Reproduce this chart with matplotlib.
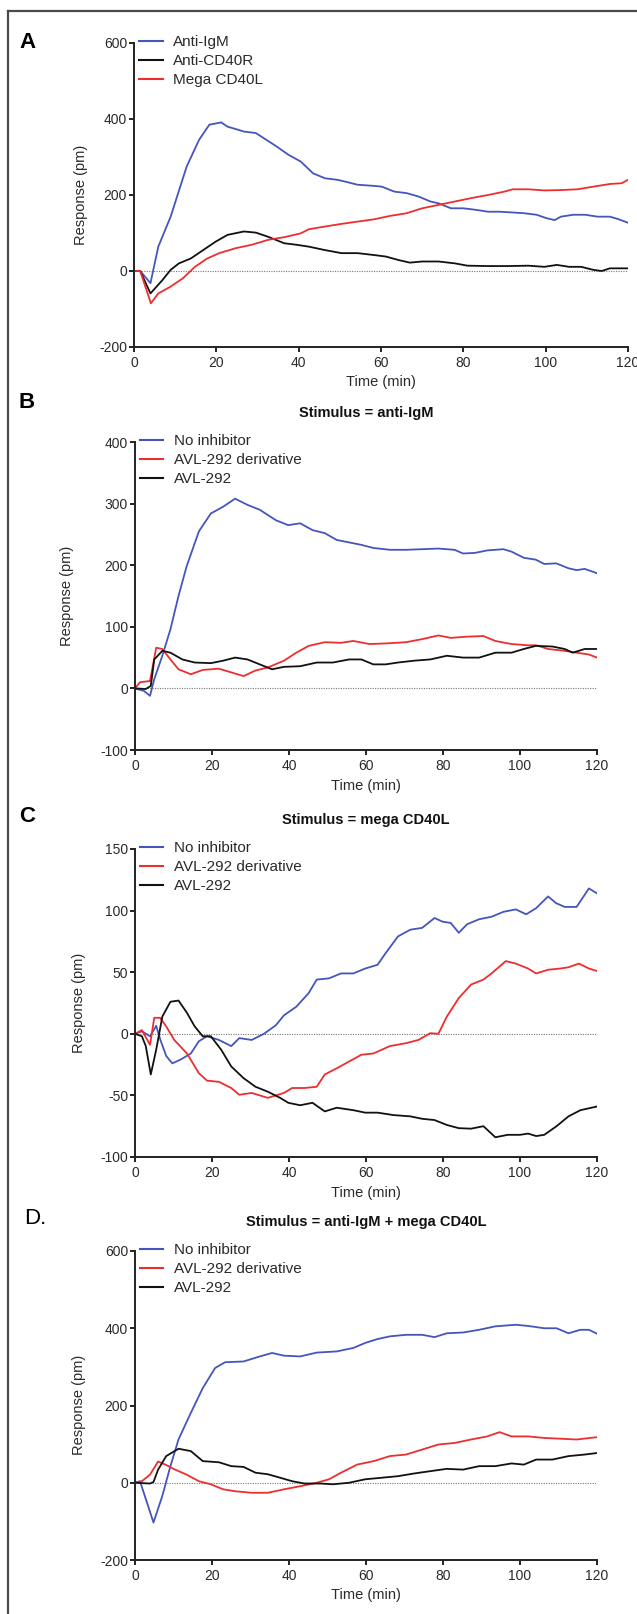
import numpy as np
import matplotlib.pyplot as plt
from matplotlib.lines import Line2D

plt.rcParams['font.family'] = ['Liberation Sans', 'DejaVu Sans']
plt.rcParams['axes.unicode_minus'] = False

BLUE = '#4555BC'
RED = '#EE2E2E'
BLACK = '#111111'

# ---- panel A: stimuli ----
a_igm_t = [0, 1.5, 4, 5.9, 8.9, 12.8, 15.8, 18.3, 21.2, 22.7, 26.7, 29.6, 34.6, 37.5, 40.5, 43.5, 46.4,
           49.4, 51.4, 54.3, 58.3, 60.2, 63.2, 66.2, 69.1, 72, 74, 77, 80, 83, 86, 88.9, 91.9, 94.8,
           97.8, 100.2, 102.2, 103.7, 106.7, 109.6, 112.6, 115.6, 117.5, 120]
a_igm_y = [0, 0, -32, 64, 143, 275, 345, 385, 391, 380, 367, 363, 328, 306, 288, 257, 244,
           240, 235, 227, 224, 222, 209, 205, 196, 183, 178, 165, 165, 161, 156, 156, 154, 152,
           148, 139, 134, 143, 148, 148, 143, 143, 137, 127]

a_cd40r_t = [0, 1.5, 4, 6.9, 8.9, 10.9, 13.8, 16.8, 19.8, 22.7, 26.7, 29.6, 32.6, 36.5, 39.5, 42.5,
             46.4, 50.4, 54.3, 58.3, 61.2, 64.2, 67, 70, 74, 78, 81, 86, 90.8, 95.8, 99.7, 102.7,
             105.7, 108.6, 111.6, 113.6, 115.6, 120]
a_cd40r_y = [0, 0, -59, -24, 3, 20, 33, 55, 77, 95, 104, 101, 90, 73, 69, 64,
             55, 47, 47, 42, 38, 29, 22, 25, 25, 20, 14, 13, 13, 14, 11, 16,
             11, 11, 3, 0, 7, 7]

a_mega_t = [0, 1.5, 4.1, 5.9, 8.9, 11.9, 14.8, 17.8, 20.7, 24.7, 28.6, 32.6, 36.5, 40.5, 42.5, 46.4,
            50.4, 54.3, 58.3, 62.2, 66.2, 70, 74, 78, 82, 86, 90, 92, 95.8, 99.7, 103.7, 107.7,
            111.6, 115.6, 118.5, 120]
a_mega_y = [0, 0, -85, -59, -41, -19, 11, 33, 47, 60, 69, 82, 89, 99, 110, 117,
            124, 130, 136, 145, 152, 165, 174, 183, 192, 200, 209, 215, 215, 212, 213, 215,
            222, 229, 231, 240]

# ---- panel B: anti-IgM ----
b_none_t = [0, 2.3, 3.9, 5, 7.1, 9.2, 11.3, 13.4, 16.6, 19.7, 22.9, 26, 29.2, 32.4, 36.6, 39.8,
            42.9, 46.1, 49.3, 52.4, 55.6, 58.8, 61.9, 66.2, 70.4, 74.6, 78.8, 83, 85.2, 88.3,
            91.5, 95.7, 97.8, 101, 104.1, 106.3, 109.4, 112.6, 114.7, 116.8, 120]
b_none_y = [0, -4, -12, 15, 53, 96, 150, 198, 255, 284, 295, 308, 298, 290, 273, 265,
            268, 257, 252, 241, 237, 233, 228, 225, 225, 226, 227, 225, 219, 220,
            224, 226, 222, 212, 209, 202, 203, 195, 192, 194, 187]

b_deriv_t = [0, 1.3, 3.9, 5.5, 7.1, 9.2, 11.3, 14.5, 17.6, 21.8, 25, 28.2, 31.3, 34.5, 38.7, 41.9,
             45.1, 49.3, 53.5, 56.7, 60.9, 65.1, 70.4, 74.6, 78.8, 82, 86.3, 90.5, 93.6, 97.8,
             102, 104.2, 107.3, 111.6, 114.7, 117.9, 120]
b_deriv_y = [0, 10, 12, 66, 64, 47, 31, 23, 30, 32, 26, 20, 29, 34, 45, 58,
             69, 75, 74, 77, 72, 73, 75, 80, 86, 82, 84, 85, 77, 72,
             70, 70, 64, 61, 58, 55, 50]

b_avl_t = [0, 2.8, 4.1, 5, 7.1, 9.2, 12.3, 15.5, 19.7, 22.9, 26, 29.2, 32.4, 35.6, 38.7, 42.9,
           47.2, 51.4, 55.6, 58.8, 61.9, 65.1, 68.3, 72.5, 76.7, 81, 85.2, 89.4, 93.6, 97.8,
           101, 104.1, 108.4, 111.6, 113.7, 116.8, 120]
b_avl_y = [0, -1, 4, 47, 61, 58, 47, 42, 41, 45, 50, 47, 39, 31, 35, 36,
           42, 42, 47, 47, 39, 39, 42, 45, 47, 53, 50, 50, 58, 58,
           64, 69, 68, 64, 58, 64, 64]

# ---- panel C: mega CD40L ----
c_none_t = [0, 1.8, 3.9, 5.5, 6.6, 8.1, 9.7, 11.8, 14.5, 16.6, 18.7, 21.8, 25, 27.1, 30.3, 33.5,
            36.6, 38.7, 41.9, 45.1, 47.2, 50.4, 53.5, 56.7, 59.8, 63, 65.1, 68.3, 71.5, 74.6,
            77.8, 79.9, 82, 84.1, 86.3, 89.4, 92.6, 95.7, 98.9, 101.6, 104.2, 107.3, 109.4,
            111.6, 114.7, 117.9, 120]
c_none_y = [0, 2, -2, 6.5, -5, -18, -24, -21, -16, -6, -2, -5, -10, -3.5, -5, 0,
            7, 15, 22, 33, 44, 45, 49, 49, 53, 56, 65.5, 79, 84.5, 86,
            94, 91, 90, 82, 89, 93, 95, 99, 101, 97, 102, 111.5, 106,
            103, 103, 118, 114]

c_deriv_t = [0, 1.8, 3.9, 5, 6.5, 8.1, 10.2, 13.5, 16.6, 18.7, 21.8, 25, 27.1, 30.3, 34.5, 38.7,
             40.8, 44, 47.2, 49.3, 52.4, 55.6, 58.8, 61.9, 66.2, 70.4, 73.6, 76.7, 78.8, 81,
             84.1, 87.3, 90.5, 92.6, 96.3, 98.9, 102.1, 104.2, 107.3, 110.5, 112.6, 115.3,
             117.9, 120]
c_deriv_y = [0, 3, -9, 13, 13, 6, -5, -16, -32, -38, -39, -44, -49.5, -48, -52, -48,
             -44, -44, -43, -33, -28, -22.5, -17, -16, -10, -7.6, -5, 0.5, 0, 14,
             29, 40, 44, 49, 59, 57, 53, 49, 52, 53, 54, 57,
             53, 51]

c_avl_t = [0, 1.8, 2.8, 4.1, 5.5, 7.1, 9.2, 11.3, 13.5, 15.5, 17.6, 19.7, 22.4, 25, 28.2, 31.3,
           34.5, 37.7, 39.8, 42.9, 46.1, 49.3, 52.4, 56.7, 59.8, 63, 67.2, 71.5, 74.6, 77.8,
           81, 84.1, 87.3, 90.5, 93.6, 96.8, 100, 102.1, 104.2, 106.3, 109.5, 112.6, 115.7, 120]
c_avl_y = [0, -2, -10, -33, -13, 14, 26, 27, 17, 6, -2, -2, -13, -26.5, -36, -43,
           -47, -52, -56, -58, -56, -63, -60, -62, -64, -64, -66, -67, -69, -70,
           -74, -76.6, -77, -75, -84, -82, -82, -81, -83, -82, -75, -67, -62, -59]

# ---- panel D: anti-IgM + mega CD40L ----
d_none_t = [0, 1.3, 4.8, 7.1, 9.2, 11.3, 14.5, 17.6, 20.8, 23.4, 28.2, 32.4, 35.6, 38.7, 42.9,
            47.2, 52.4, 56.7, 59.8, 63, 66.2, 70.4, 74.6, 77.8, 81, 85.2, 89.4, 93.6, 98.9,
            102.1, 106.3, 109.5, 112.6, 115.7, 117.9, 120]
d_none_y = [0, 4, -103, -34, 43, 112, 181, 245, 297, 312, 314, 327, 336, 329, 327,
            337, 340, 349, 362, 372, 379, 383, 383, 377, 387, 389, 396, 405, 409,
            406, 400, 400, 387, 396, 396, 386]

d_deriv_t = [0, 1.8, 3.9, 6, 8.1, 10.2, 13.4, 16.6, 19.7, 22.9, 26, 30.3, 34.5, 38.7, 42.9, 47.2,
             50.4, 53.5, 57.7, 62, 66.2, 70.4, 74.6, 78.8, 83, 87.3, 91.5, 94.7, 97.8, 102.1,
             106.3, 110.5, 114.7, 120]
d_deriv_y = [0, 4, 21, 55, 46, 35, 21, 4, -4, -17, -22, -26, -26, -17, -9, 0,
             9, 26, 47, 56, 69, 73, 86, 99, 103, 112, 120, 131, 120, 120,
             116, 114, 112, 118]

d_avl_t = [0, 3.9, 4.8, 6, 8.1, 11.3, 14.5, 17.6, 21.8, 25, 28.2, 31.3, 34.5, 37.7, 40.8, 44,
           48.2, 51.4, 55.6, 59.8, 64.1, 68.3, 72.5, 76.7, 81, 85.2, 89.4, 93.6, 97.8, 101,
           104.2, 108.4, 112.6, 116.8, 120]
d_avl_y = [0, -2, 2, 34, 69, 88, 82, 56, 53, 43, 41, 26, 22, 13, 4, -2,
           -2, -4, 0, 9, 13, 17, 24, 30, 36, 34, 43, 43, 50, 47,
           60, 60, 69, 73, 77]

inhib_labels = ['No inhibitor', 'AVL-292 derivative', 'AVL-292']

W, H = 637, 1614
TXT = '#2a2a2a'


def px(x, y):
    # pixel position (from top-left) -> figure fraction
    return x / W, 1 - y / H


def make_axes(fig, left, right, top, bottom, ylim, yticks):
    ax = fig.add_axes([left / W, 1 - bottom / H, (right - left) / W, (bottom - top) / H])
    ax.set_xlim(0, 120)
    ax.set_ylim(*ylim)
    ax.set_xticks(np.arange(0, 121, 20))
    ax.set_yticks(yticks)
    for s in ['top', 'right']:
        ax.spines[s].set_visible(False)
    for s in ['left', 'bottom']:
        ax.spines[s].set_linewidth(1.4)
        ax.spines[s].set_color('#222222')
    ax.tick_params(length=3.5, width=1.4, color='#222222', labelsize=10,
                   labelcolor=TXT, pad=1.5)
    ax.tick_params(axis='x', pad=3)
    ax.axhline(0, color='#777777', lw=0.8, ls=(0, (1, 1.2)), zorder=1)
    return ax


def add_legend(ax, labels, colors):
    handles = [Line2D([0], [0], color=c, lw=1.5) for c in colors]
    # first row sits level with the top of the y axis
    top = 1 + 8.0 / (ax.get_position().height * H)
    ax.legend(handles, labels, loc='upper left', bbox_to_anchor=(0.01, top),
              frameon=False, fontsize=11, borderaxespad=0, borderpad=0,
              handlelength=1.55, handletextpad=0.7, labelspacing=0.33,
              labelcolor=TXT)


fig = plt.figure(figsize=(W / 100, H / 100), dpi=100)

# frame around the figure (only left and top edges visible)
fig.add_artist(Line2D([8 / W, 8 / W], [0, 1 - 11 / H], color='#4a4a4a', lw=1.6))
fig.add_artist(Line2D([8 / W, 1], [1 - 11 / H, 1 - 11 / H], color='#4a4a4a', lw=1.6))

lw = 1.3

# A
ax = make_axes(fig, 134, 628, 43, 347, (-200, 600), [-200, 0, 200, 400, 600])
ax.plot(a_igm_t, a_igm_y, color=BLUE, lw=lw)
ax.plot(a_cd40r_t, a_cd40r_y, color=BLACK, lw=lw)
ax.plot(a_mega_t, a_mega_y, color=RED, lw=lw)
add_legend(ax, ['Anti-IgM', 'Anti-CD40R', 'Mega CD40L'], [BLUE, BLACK, RED])

# B
ax = make_axes(fig, 135, 597, 442, 750, (-100, 400), [-100, 0, 100, 200, 300, 400])
ax.plot(b_none_t, b_none_y, color=BLUE, lw=lw)
ax.plot(b_deriv_t, b_deriv_y, color=RED, lw=lw)
ax.plot(b_avl_t, b_avl_y, color=BLACK, lw=lw)
add_legend(ax, inhib_labels, [BLUE, RED, BLACK])

# C
ax = make_axes(fig, 135, 597, 849, 1157, (-100, 150), [-100, -50, 0, 50, 100, 150])
ax.plot(c_none_t, c_none_y, color=BLUE, lw=lw)
ax.plot(c_deriv_t, c_deriv_y, color=RED, lw=lw)
ax.plot(c_avl_t, c_avl_y, color=BLACK, lw=lw)
add_legend(ax, inhib_labels, [BLUE, RED, BLACK])

# D
ax = make_axes(fig, 135, 597, 1251, 1560, (-200, 600), [-200, 0, 200, 400, 600])
ax.plot(d_none_t, d_none_y, color=BLUE, lw=lw)
ax.plot(d_deriv_t, d_deriv_y, color=RED, lw=lw)
ax.plot(d_avl_t, d_avl_y, color=BLACK, lw=lw)
add_legend(ax, inhib_labels, [BLUE, RED, BLACK])

# panel letters
fig.text(*px(19, 43), 'A', fontsize=16, fontweight='bold', va='center', ha='left')
fig.text(*px(19, 403), 'B', fontsize=16, fontweight='bold', va='center', ha='left')
fig.text(*px(19, 817), 'C', fontsize=16, fontweight='bold', va='center', ha='left')
fig.text(*px(24, 1218), 'D.', fontsize=16, va='center', ha='left')

# titles
for y, t in [(413, 'Stimulus = anti-IgM'), (820, 'Stimulus = mega CD40L'),
             (1222, 'Stimulus = anti-IgM + mega CD40L')]:
    fig.text(*px(366, y), t, fontsize=10.5, fontweight='bold', ha='center', va='center',
             color='#111111')

# axis labels
for x, y in [(381, 382), (366, 786), (366, 1193), (366, 1595)]:
    fig.text(*px(x, y), 'Time (min)', fontsize=10.5, ha='center', va='center', color=TXT)
for x, y in [(81, 195), (67, 596), (79, 1003), (79, 1405)]:
    fig.text(*px(x, y), 'Response (pm)', fontsize=10.5, ha='center', va='center',
             rotation=90, color=TXT)

fig.savefig('out.png', dpi=100)
